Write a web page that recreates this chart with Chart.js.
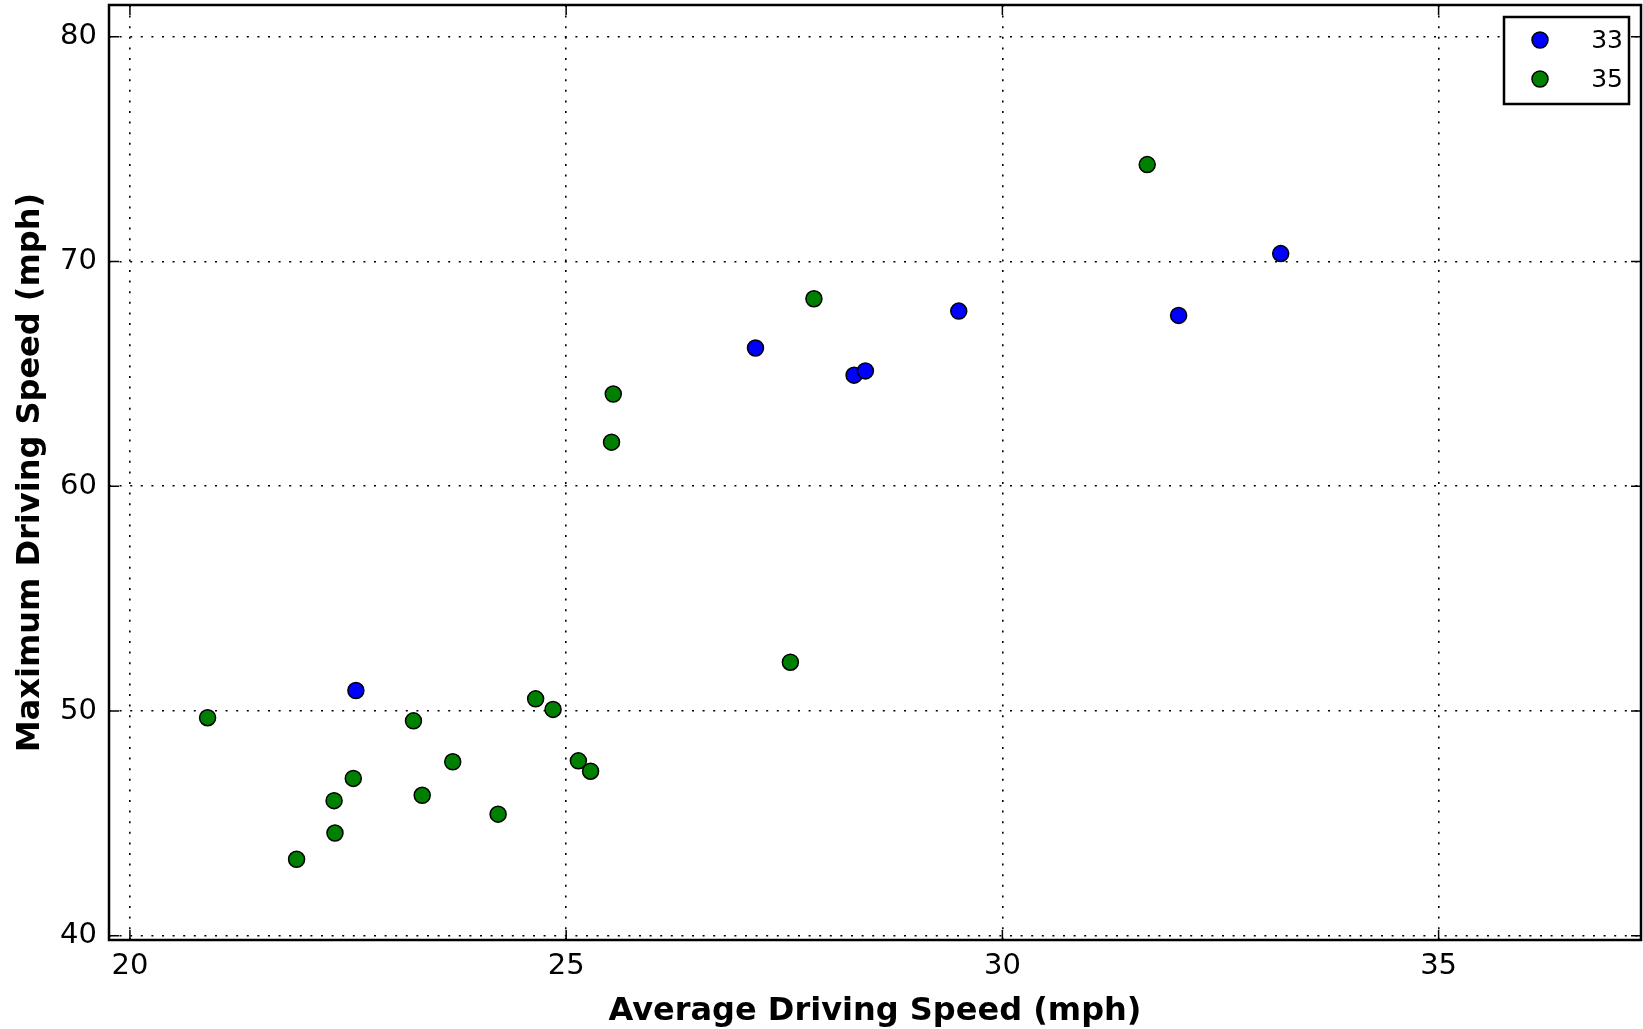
<!DOCTYPE html>
<html>
<head>
<meta charset="utf-8">
<script src="https://cdn.jsdelivr.net/npm/chart.js@4/dist/chart.umd.min.js"></script>
<style>
  html, body { margin: 0; padding: 0; background: #fff; }
  canvas { display: block; }
</style>
</head>
<body>
<canvas id="chart" width="1643" height="1029"></canvas>
<script>
// series (average speed, max speed)
const seriesLabels = ["33", "35"];
const seriesColors = ["#0000ff", "#008000"];

const avg33 = [22.59, 27.17, 28.30, 28.43, 29.50, 32.02, 33.19];
const max33 = [50.91, 66.15, 64.94, 65.13, 67.79, 67.60, 70.35];

const avg35 = [20.89, 21.91, 22.34, 22.35, 22.56, 23.25, 23.35, 23.70, 24.22,
               24.65, 24.85, 25.14, 25.28, 25.54, 25.52, 27.57, 27.84, 31.66];
const max35 = [49.70, 43.40, 46.01, 44.57, 47.00, 49.56, 46.25, 47.74, 45.41,
               50.54, 50.07, 47.78, 47.32, 64.10, 61.96, 52.17, 68.34, 74.31];

const xTicks = [20, 25, 30, 35];
const yTicks = [40, 50, 60, 70, 80];
const xRange = [19.76, 37.32];
const yRange = [39.81, 81.41];

const FONT = "'DejaVu Sans', sans-serif";

const toPoints = (xs, ys) => xs.map((x, i) => ({ x: x, y: ys[i] }));

// frame, inward ticks and the boxed legend (matplotlib look)
const framePlugin = {
  id: "frame",
  afterDraw(chart) {
    const { ctx, chartArea: a, scales } = chart;
    ctx.save();
    ctx.strokeStyle = "#000";
    ctx.lineWidth = 1.5;
    const len = 10;
    ctx.beginPath();
    xTicks.forEach(v => {
      const px = scales.x.getPixelForValue(v);
      ctx.moveTo(px, a.bottom); ctx.lineTo(px, a.bottom - len);
      ctx.moveTo(px, a.top); ctx.lineTo(px, a.top + len);
    });
    yTicks.forEach(v => {
      const py = scales.y.getPixelForValue(v);
      ctx.moveTo(a.left, py); ctx.lineTo(a.left + len, py);
      ctx.moveTo(a.right, py); ctx.lineTo(a.right - len, py);
    });
    ctx.stroke();

    ctx.lineWidth = 2.5;
    ctx.strokeRect(a.left, a.top, a.right - a.left, a.bottom - a.top);

    // legend
    const bx = a.right - 137, by = a.top + 12, bw = 125, bh = 87;
    ctx.fillStyle = "#fff";
    ctx.fillRect(bx, by, bw, bh);
    ctx.lineWidth = 2.5;
    ctx.strokeRect(bx, by, bw, bh);
    ctx.font = "25px " + FONT;
    ctx.textAlign = "right";
    ctx.textBaseline = "middle";
    chart.data.datasets.forEach((ds, i) => {
      const cy = by + 23 + i * 39;
      ctx.beginPath();
      ctx.arc(bx + 36, cy, 8, 0, Math.PI * 2);
      ctx.fillStyle = ds.backgroundColor;
      ctx.fill();
      ctx.lineWidth = 1.5;
      ctx.strokeStyle = "#000";
      ctx.stroke();
      ctx.fillStyle = "#000";
      ctx.fillText(ds.label, bx + 119, cy + 1);
    });
    ctx.restore();
  }
};

const gridStyle = {
  color: "#000",
  lineWidth: 1.6,
  drawTicks: false,
};

new Chart(document.getElementById("chart").getContext("2d"), {
  type: "scatter",
  data: {
    datasets: [
      {
        label: seriesLabels[0],
        data: toPoints(avg33, max33),
        backgroundColor: seriesColors[0],
        borderColor: "#000",
        borderWidth: 1.5,
        pointRadius: 8,
        pointHoverRadius: 8,
      },
      {
        label: seriesLabels[1],
        data: toPoints(avg35, max35),
        backgroundColor: seriesColors[1],
        borderColor: "#000",
        borderWidth: 1.5,
        pointRadius: 8,
        pointHoverRadius: 8,
      },
    ],
  },
  options: {
    responsive: false,
    animation: false,
    events: [],
    layout: { autoPadding: false, padding: { top: 5, right: 2, left: 0, bottom: 0 } },
    plugins: {
      legend: { display: false },
      tooltip: { enabled: false },
    },
    scales: {
      x: {
        type: "linear",
        min: xRange[0],
        max: xRange[1],
        afterBuildTicks: s => { s.ticks = xTicks.map(v => ({ value: v })); },
        afterFit: s => { s.height = 89; s.paddingLeft = 0; s.paddingRight = 0; },
        border: { display: false, dash: [2, 8.6] },
        grid: gridStyle,
        ticks: {
          color: "#000",
          padding: 9,
          maxRotation: 0,
          font: { family: FONT, size: 29 },
        },
        title: {
          display: true,
          text: "Average Driving Speed (mph)",
          color: "#000",
          font: { family: FONT, size: 32, weight: "bold", lineHeight: 1 },
          padding: { top: 4, bottom: 1 },
        },
      },
      y: {
        type: "linear",
        min: yRange[0],
        max: yRange[1],
        afterBuildTicks: s => { s.ticks = yTicks.map(v => ({ value: v })); },
        afterFit: s => { s.width = 109; s.paddingTop = 0; s.paddingBottom = 0; },
        border: { display: false, dash: [2, 8.6] },
        grid: gridStyle,
        ticks: {
          color: "#000",
          padding: 12,
          font: { family: FONT, size: 29 },
        },
        title: {
          display: true,
          text: "Maximum Driving Speed (mph)",
          color: "#000",
          font: { family: FONT, size: 32, weight: "bold", lineHeight: 1 },
          padding: { top: 15, bottom: 0 },
        },
      },
    },
  },
  plugins: [framePlugin],
});
</script>
</body>
</html>
